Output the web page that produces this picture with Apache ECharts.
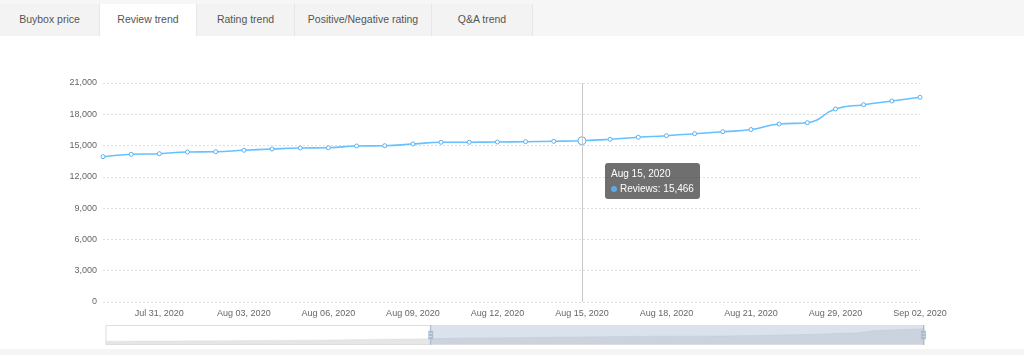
<!DOCTYPE html>
<html>
<head>
<meta charset="utf-8">
<script src="https://cdn.jsdelivr.net/npm/echarts@6/dist/echarts.min.js"></script>
<style>
html,body{margin:0;padding:0;width:1024px;height:355px;overflow:hidden;background:#f5f5f5;font-family:"Liberation Sans",Arial,sans-serif;}
#tabs{position:absolute;left:0;top:0;width:1024px;height:36px;background:#f6f6f6;}
.tab{position:absolute;top:4px;height:32px;line-height:30px;text-align:center;font-size:10.5px;color:#555;background:#f3f3f3;border-right:1px solid #e6e6e6;box-sizing:border-box;}
.tab.active{background:#fff;}
#panel{position:absolute;left:0;top:36px;width:1024px;height:313px;background:#fff;}
#chart{position:absolute;left:0;top:0;width:1024px;height:313px;}
</style>
</head>
<body>
<div id="tabs">
  <div class="tab" style="left:0;width:100px;">Buybox price</div>
  <div class="tab active" style="left:100px;width:97px;">Review trend</div>
  <div class="tab" style="left:197px;width:98px;">Rating trend</div>
  <div class="tab" style="left:295px;width:137px;">Positive/Negative rating</div>
  <div class="tab" style="left:432px;width:101px;">Q&amp;A trend</div>
</div>
<div id="panel"><div id="chart"></div></div>
<script>
// Dates (category axis), full series; the view is zoomed to the last 30 points
const dates = [
  "Jul 10, 2020","Jul 11, 2020","Jul 12, 2020","Jul 13, 2020","Jul 14, 2020","Jul 15, 2020","Jul 16, 2020",
  "Jul 17, 2020","Jul 18, 2020","Jul 19, 2020","Jul 20, 2020","Jul 21, 2020","Jul 22, 2020","Jul 23, 2020",
  "Jul 24, 2020","Jul 25, 2020","Jul 26, 2020","Jul 27, 2020","Jul 28, 2020",
  "Jul 29, 2020","Jul 30, 2020","Jul 31, 2020","Aug 01, 2020","Aug 02, 2020","Aug 03, 2020","Aug 04, 2020",
  "Aug 05, 2020","Aug 06, 2020","Aug 07, 2020","Aug 08, 2020","Aug 09, 2020","Aug 10, 2020","Aug 11, 2020",
  "Aug 12, 2020","Aug 13, 2020","Aug 14, 2020","Aug 15, 2020","Aug 16, 2020","Aug 17, 2020","Aug 18, 2020",
  "Aug 19, 2020","Aug 20, 2020","Aug 21, 2020","Aug 23, 2020","Aug 26, 2020","Aug 29, 2020","Aug 30, 2020",
  "Sep 01, 2020","Sep 02, 2020"
];
const reviews = [
  12480, 12520, 12560, 12610, 12650, 12700, 12760,
  12800, 12850, 12900, 12960, 13020, 13100, 13200,
  13320, 13450, 13580, 13700, 13820,
  13933, 14163, 14221, 14384, 14412, 14547, 14671,
  14767, 14796, 14959, 14988, 15151, 15314, 15318,
  15342, 15371, 15410, 15466, 15602, 15794, 15947,
  16139, 16330, 16535, 17068, 17193, 18507, 18919,
  19274, 19629
];
const yTicks = { min: 0, max: 21000, interval: 3000 };
const zoomStart = 19, zoomEnd = 48;
const tipIndex = 36;

const chart = echarts.init(document.getElementById('chart'), null, { renderer: 'canvas' });
const lineColor = '#5cb0ee';
const font = '"Liberation Sans", Arial, sans-serif';
chart.setOption({
  animation: false,
  grid: { left: 103, right: 104, top: 47, bottom: 47 },
  tooltip: {
    trigger: 'axis',
    alwaysShowContent: true,
    backgroundColor: 'rgba(50,50,50,0.7)',
    borderWidth: 0,
    padding: [3, 6],
    extraCssText: 'box-shadow:none;border-radius:3px;',
    textStyle: { color: '#fff', fontSize: 9, fontFamily: font },
    axisPointer: { type: 'line', lineStyle: { color: '#c8c8c8', width: 1, type: 'solid' } },
    position: function (pt) { return [pt[0] + 23, pt[1] + 22]; },
    formatter: function (params) {
      const p = params[0];
      return '<div style="font-size:10px;line-height:15px;color:#fff;font-family:' + font.replace(/"/g, "'") + '">' +
        p.name + '<br/><span style="display:inline-block;width:6px;height:6px;border-radius:3px;background:#5aaaf0;margin-right:3px;"></span>' +
        'Reviews: ' + p.value.toLocaleString('en-US') + '</div>';
    }
  },
  xAxis: {
    type: 'category',
    data: dates,
    boundaryGap: false,
    axisLine: { show: false },
    axisTick: { show: false },
    axisLabel: { interval: 2, color: '#666', fontSize: 9, fontFamily: font, margin: 7 }
  },
  yAxis: {
    type: 'value',
    min: yTicks.min, max: yTicks.max, interval: yTicks.interval,
    axisLine: { show: false },
    axisTick: { show: false },
    axisLabel: { color: '#666', fontSize: 9, fontFamily: font, margin: 6,
      formatter: function (v) { return v.toLocaleString('en-US'); } },
    splitLine: { lineStyle: { color: '#dedede', type: [2, 2], width: 1 } }
  },
  dataZoom: [{
    type: 'slider',
    xAxisIndex: 0,
    startValue: zoomStart,
    endValue: zoomEnd,
    left: 103, right: 102, top: 289, height: 20,
    backgroundColor: 'rgba(0,0,0,0)',
    borderColor: '#ddd',
    fillerColor: 'rgba(167,183,204,0.4)',
    showDetail: false,
    brushSelect: false,
    moveHandleSize: 0,
    handleIcon: 'path://M8.2,13.6V3.9H6.3v9.7H3.1v14.9h3.3v9.7h1.8v-9.7h3.3V13.6H8.2z M9.7,24.4H4.8v-1.4h4.9V24.4z M9.7,19.1H4.8v-1.4h4.9V19.1z',
    handleSize: '100%',
    handleStyle: { color: '#a7b7cc', borderColor: '#a7b7cc', borderWidth: 0, opacity: 0.9 },
    dataBackground: { lineStyle: { color: '#ccc', opacity: 0.5, width: 0.5 }, areaStyle: { color: '#dcdcdc', opacity: 0.7 } },
    selectedDataBackground: { lineStyle: { color: '#b8c2d0', opacity: 0.6, width: 0.5 }, areaStyle: { color: '#c9d0da', opacity: 0.5 } }
  }],
  series: [{
    name: 'Reviews',
    type: 'line',
    data: reviews,
    smooth: true,
    symbol: 'circle',
    symbolSize: 4,
    showAllSymbol: true,
    itemStyle: { color: '#fff', borderColor: lineColor, borderWidth: 1 },
    lineStyle: { color: lineColor, width: 1.6 },
    emphasis: { scale: 2, itemStyle: { color: '#fff', borderColor: lineColor, borderWidth: 1 } }
  }]
});
setTimeout(function () {
  chart.dispatchAction({ type: 'showTip', seriesIndex: 0, dataIndex: tipIndex });
}, 50);
</script>
</body>
</html>
